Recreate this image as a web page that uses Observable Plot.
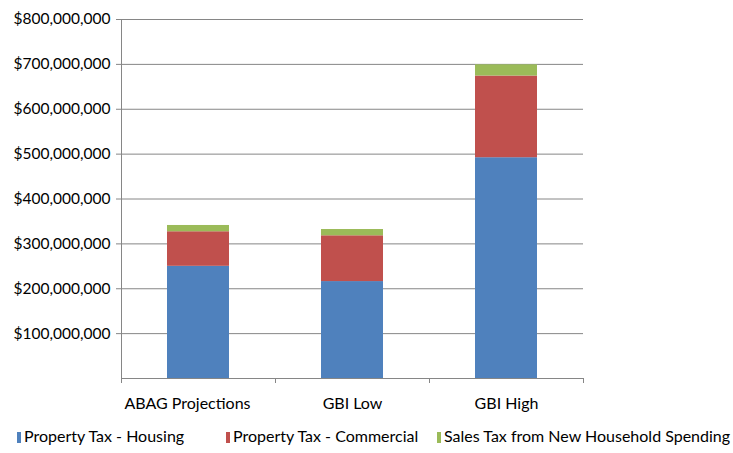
<!DOCTYPE html>
<html>
<head>
<meta charset="utf-8">
<script src="https://cdn.jsdelivr.net/npm/d3@7"></script>
<script src="https://cdn.jsdelivr.net/npm/@observablehq/plot@0.6"></script>
<style>
  html, body { margin: 0; padding: 0; background: #fff; }
  body { width: 733px; height: 453px; overflow: hidden; font-family: Lato, "Open Sans", sans-serif; }
  #legend { position: relative; height: 33px; font-size: 16px; color: #000; }
  .item { position: absolute; top: 6px; white-space: nowrap; }
  .swatch { display: inline-block; width: 4px; height: 11px; margin-right: 3px; vertical-align: -1px; }
</style>
</head>
<body>
<div id="chart"></div>
<div id="legend"></div>
<script>
// Revenue scenarios, in dollars
const scenarios = ["ABAG Projections", "GBI Low", "GBI High"];
const housing = [250e6, 216e6, 492e6];
const commercial = [77e6, 102e6, 182e6];
const salesTax = [14e6, 14e6, 25e6];
const seriesNames = ["Property Tax - Housing", "Property Tax - Commercial", "Sales Tax from New Household Spending"];
const seriesColors = ["#4F81BD", "#C0504D", "#9BBB59"];
const yTicks = [100e6, 200e6, 300e6, 400e6, 500e6, 600e6, 700e6, 800e6];

const seriesValues = [housing, commercial, salesTax];
const rows = [];
seriesNames.forEach((name, s) => {
  scenarios.forEach((scenario, i) => {
    rows.push({scenario, series: name, value: seriesValues[s][i]});
  });
});

const fmt = d3.format("$,");
const step = (733 - 121 - 150) / scenarios.length;
const axisColor = "#868686";

const chart = Plot.plot({
  width: 733,
  height: 420,
  marginLeft: 121,
  marginRight: 150,
  marginTop: 19,
  marginBottom: 42,
  style: {fontFamily: "Lato, 'Open Sans', sans-serif", fontSize: "16px", color: "#000", background: "#fff"},
  x: {domain: scenarios, paddingInner: 0.6, paddingOuter: 0.3, label: null},
  y: {domain: [0, 800e6], label: null},
  color: {domain: seriesNames, range: seriesColors},
  marks: [
    Plot.ruleY(yTicks, {stroke: axisColor, strokeWidth: 1, insetLeft: -5}),
    Plot.barY(rows, {x: "scenario", y: "value", fill: "series", order: seriesNames}),
    Plot.ruleY([0], {stroke: axisColor, strokeWidth: 1}),
    // vertical axis line along the left edge of the first band
    Plot.ruleX(scenarios.slice(0, 1), {x: d => d, dx: -step / 2, y1: 0, y2: 800e6, stroke: axisColor}),
    // category boundary ticks below the baseline
    Plot.ruleX(scenarios, {x: d => d, dx: -step / 2, y1: 0, y2: 0, insetBottom: -5, stroke: axisColor}),
    Plot.ruleX(scenarios.slice(-1), {x: d => d, dx: step / 2, y1: 0, y2: 0, insetBottom: -5, stroke: axisColor}),
    Plot.axisY(yTicks, {tickSize: 0, tickPadding: 11, tickFormat: fmt, fill: "#000", fontSize: "15.5px", label: null}),
    // the long first label sits a little left of its band centre
    Plot.axisX(scenarios.slice(0, 1), {tickSize: 0, tickPadding: 19, dx: -11, fill: "#000", label: null}),
    Plot.axisX(scenarios.slice(1), {tickSize: 0, tickPadding: 19, fill: "#000", label: null})
  ]
});
document.getElementById("chart").appendChild(chart);

// Legend below the chart
const legend = document.getElementById("legend");
const lefts = [17, 226, 437];
seriesNames.forEach((name, i) => {
  const item = document.createElement("span");
  item.className = "item";
  item.style.left = lefts[i] + "px";
  const sw = document.createElement("span");
  sw.className = "swatch";
  sw.style.background = seriesColors[i];
  item.appendChild(sw);
  item.appendChild(document.createTextNode(name));
  legend.appendChild(item);
});
</script>
</body>
</html>
